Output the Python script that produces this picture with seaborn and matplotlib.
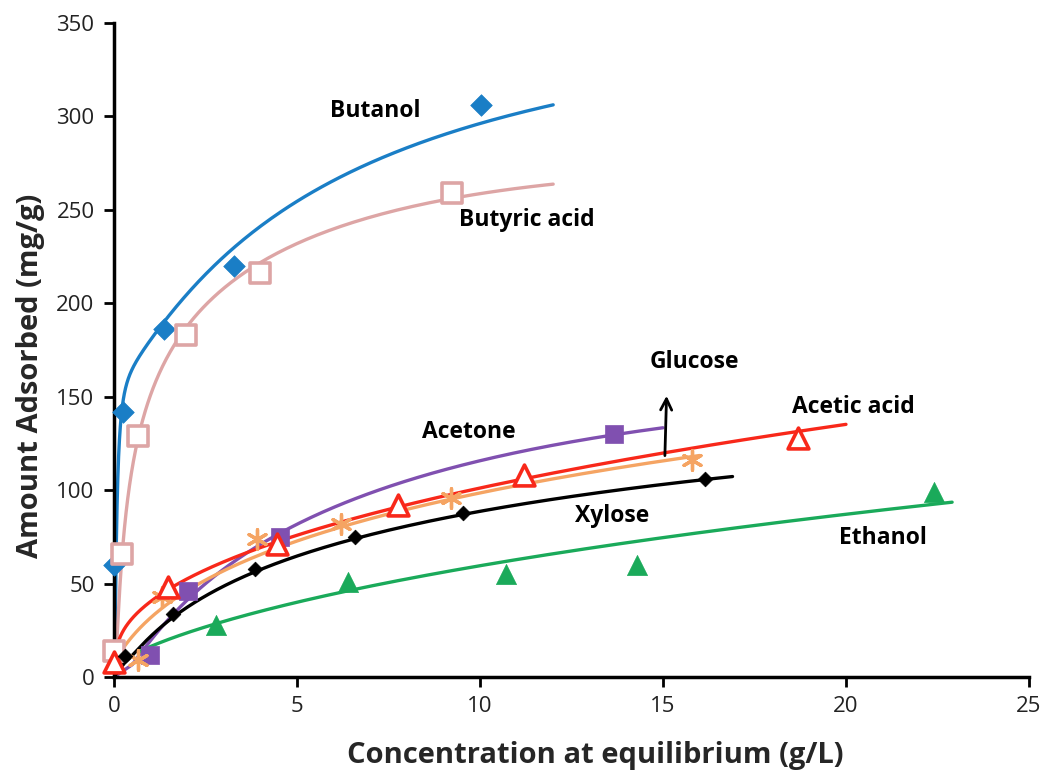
import numpy as np
import pandas as pd
import matplotlib
matplotlib.use("Agg")
import matplotlib.pyplot as plt
import seaborn as sns

# ---------------- data: measured points ----------------
butanol_x = [0.0, 0.25, 1.37, 3.28, 10.03]
butanol_y = [60, 142, 186, 220, 306]

butyric_x = [0.0, 0.22, 0.66, 1.97, 4.0, 9.23]
butyric_y = [14, 66, 129, 183, 216, 259]

acetone_x = [0.98, 2.03, 4.54, 13.66]
acetone_y = [12, 46, 75, 130]

glucose_x = [0.65, 1.32, 3.9, 6.2, 9.2, 15.8]
glucose_y = [9, 43, 74, 82, 96, 116]

acetic_x = [0.0, 1.48, 4.45, 7.76, 11.2, 18.7]
acetic_y = [8, 48, 71, 92, 108, 128]

xylose_x = [0.3, 1.62, 3.86, 6.58, 9.54, 16.15]
xylose_y = [11, 34, 58, 75, 88, 106]

ethanol_x = [2.78, 6.4, 10.7, 14.3, 22.4]
ethanol_y = [28, 51, 55, 60, 99]

# ---------------- data: trend curves (samples) ----------------
butanol_fit_x = [0, 0.02, 0.05, 0.08, 0.12, 0.2, 0.37, 0.64, 1.0, 1.4, 2.0, 2.6, 3.25, 4.0, 5.0, 6.0, 7.3, 8.7, 10.3, 12.0]
butanol_fit_y = [0, 22, 52, 88, 118, 138, 157, 171, 182, 191, 204, 217, 229, 241, 255, 266, 278, 288, 298, 306]

butyric_fit_x = [0, 0.05, 0.12, 0.21, 0.39, 0.66, 1.12, 1.58, 1.94, 2.5, 3.2, 4.0, 5.0, 6.4, 7.7, 9.1, 10.5, 12.0]
butyric_fit_y = [0, 15, 34, 64, 96, 127, 158, 176, 189, 199, 209, 219, 232, 244, 251, 256, 260, 263]

acetone_fit_x = [0, 0.5, 1.0, 1.5, 2.0, 2.7, 3.5, 4.5, 5.1, 6.4, 7.8, 9.2, 10.5, 11.9, 13.3, 15.0]
acetone_fit_y = [0, 7, 18, 31, 43, 55, 65, 75, 80, 93, 105, 113, 119.5, 124, 128, 132.5]

glucose_fit_x = [0.02, 0.1, 0.45, 1.1, 2.0, 2.95, 4.0, 5.08, 6.4, 7.8, 9.5, 11.45, 12.8, 14.2, 16.0]
glucose_fit_y = [5, 11, 21, 34, 45, 56, 66, 74, 81, 88, 97, 105, 109, 113, 118]

acetic_fit_x = [0.01, 0.05, 0.15, 0.3, 0.6, 0.85, 1.58, 2.5, 3.03, 4.0, 5.08, 6.4, 7.8, 9.4, 11.1, 12.6, 14.2, 15.8, 17.4, 18.7, 20.0]
acetic_fit_y = [7, 13, 20, 27, 34, 40, 48, 56, 60, 68, 75.5, 84, 92, 100, 107, 113, 118, 123, 127, 130, 134]

xylose_fit_x = [0, 0.3, 0.63, 1.0, 1.58, 2.5, 3.03, 3.86, 5.08, 6.58, 7.8, 9.54, 11.0, 12.4, 14.5, 16.9]
xylose_fit_y = [0, 8, 14, 22, 32, 43, 48, 57, 66, 74, 79, 87, 92, 97, 102, 107]

ethanol_fit_x = [0.68, 2.76, 5.0, 7.8, 10.0, 12.4, 15.0, 17.4, 20.0, 22.9]
ethanol_fit_y = [13.5, 28, 40.5, 52, 59.5, 67, 74.5, 80.5, 87, 94]

series_names = ["Butanol", "Butyric acid", "Acetone", "Glucose", "Acetic acid", "Xylose", "Ethanol"]

colors = {
    "Butanol": "#1A7EC6",
    "Butyric acid": "#DDA5A5",
    "Acetone": "#8050B0",
    "Glucose": "#F5A463",
    "Acetic acid": "#F8281A",
    "Xylose": "#000000",
    "Ethanol": "#1AAA5A",
}


def smooth_trend(xs, ys, deg):
    """Least-squares trendline in log(x) through the read samples."""
    xs = np.asarray(xs, float)
    ys = np.asarray(ys, float)
    pos = xs > 0
    c = np.polyfit(np.log(xs[pos]), ys[pos], deg)
    xd = np.geomspace(xs[pos].min(), xs[pos].max(), 300)
    yd = np.polyval(c, np.log(xd))
    if (~pos).any():
        xd = np.concatenate([xs[~pos], xd])
        yd = np.concatenate([ys[~pos], yd])
    return xd, yd


trend_specs = [
    ("Butanol", butanol_fit_x, butanol_fit_y, 6),
    ("Butyric acid", butyric_fit_x, butyric_fit_y, 5),
    ("Acetone", acetone_fit_x, acetone_fit_y, 4),
    ("Glucose", glucose_fit_x, glucose_fit_y, 4),
    ("Acetic acid", acetic_fit_x, acetic_fit_y, 4),
    ("Xylose", xylose_fit_x, xylose_fit_y, 4),
    ("Ethanol", ethanol_fit_x, ethanol_fit_y, 3),
]
frames = []
for name, fx, fy, deg in trend_specs:
    xd, yd = smooth_trend(fx, fy, deg)
    frames.append(pd.DataFrame({"x": xd, "y": yd, "s": name}))
curves = pd.concat(frames, ignore_index=True)

sns.set_theme(style="ticks")
plt.rcParams["font.family"] = ["Open Sans", "DejaVu Sans"]

fig = plt.figure(figsize=(10.4, 7.8), dpi=100)
ax = fig.add_axes([0.1096, 0.132, 0.8798, 0.8385])

sns.lineplot(data=curves, x="x", y="y", hue="s", palette=colors, sort=False,
             estimator=None, legend=False, linewidth=2.4, ax=ax, zorder=2)


def pts(x, y, name, marker, size, hollow=False, lw=2.2, z=3):
    df = pd.DataFrame({"x": x, "y": y})
    c = colors[name]
    if hollow:
        sns.scatterplot(data=df, x="x", y="y", marker=marker, s=size ** 2,
                        facecolor="white", edgecolor=c, linewidth=lw, ax=ax,
                        zorder=z, clip_on=False)
    elif marker == (6, 2, 0):
        sns.scatterplot(data=df, x="x", y="y", marker=marker, s=size ** 2,
                        color=c, edgecolor=c, linewidth=lw, ax=ax, zorder=z, clip_on=False)
    else:
        sns.scatterplot(data=df, x="x", y="y", marker=marker, s=size ** 2,
                        color=c, edgecolor=c, linewidth=0.5, ax=ax, zorder=z, clip_on=False)


pts(butanol_x, butanol_y, "Butanol", "D", 11)
pts(butyric_x, butyric_y, "Butyric acid", "s", 15, hollow=True, lw=2.6)
pts(acetone_x, acetone_y, "Acetone", "s", 13.5)
pts(glucose_x, glucose_y, "Glucose", (6, 2, 0), 14, lw=2.4)
pts(acetic_x, acetic_y, "Acetic acid", "^", 15, hollow=True, lw=2.6)
pts(xylose_x, xylose_y, "Xylose", "D", 7.5)
pts(ethanol_x, ethanol_y, "Ethanol", "^", 14.5)

# glucose arrow
ax.annotate("", xy=(15.1, 152), xytext=(15.05, 117),
            arrowprops=dict(arrowstyle="->", color="black", lw=2.0, mutation_scale=20))

label_pos = {
    "Butanol": (7.13, 303),
    "Butyric acid": (11.28, 244.5),
    "Glucose": (15.87, 168.5),
    "Acetic acid": (20.2, 144.5),
    "Acetone": (9.7, 131),
    "Xylose": (13.6, 86),
    "Ethanol": (21.0, 74.4),
}
for name in series_names:
    lx, ly = label_pos[name]
    ax.text(lx, ly, name, ha="center", va="center", fontsize=16.5, fontweight="bold",
            color="black", zorder=5)

ax.set_xlim(0, 25)
ax.set_ylim(0, 350)
ax.set_xticks([0, 5, 10, 15, 20, 25])
ax.set_yticks([0, 50, 100, 150, 200, 250, 300, 350])
ax.tick_params(axis="both", direction="out", length=7, width=2, colors="black",
               labelsize=16, pad=7, labelcolor="#222222")
for sp in ["left", "bottom"]:
    ax.spines[sp].set_linewidth(2.5)
    ax.spines[sp].set_color("black")
for sp in ["top", "right"]:
    ax.spines[sp].set_visible(False)

ax.set_xlabel("Concentration at equilibrium (g/L)", fontsize=21, fontweight="bold")
ax.set_ylabel("Amount Adsorbed (mg/g)", fontsize=21, fontweight="bold")
ax.xaxis.set_label_coords(0.526, -0.098)
ax.yaxis.set_label_coords(-0.0754, 0.46)

fig.savefig("out.png", dpi=100)
